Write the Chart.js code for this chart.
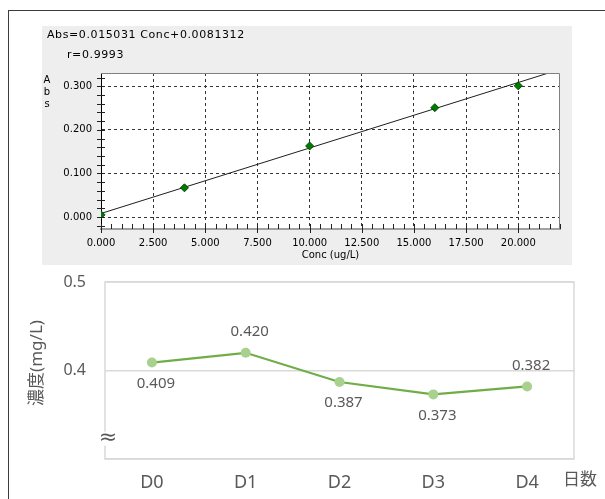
<!DOCTYPE html>
<html>
<head>
<meta charset="utf-8">
<script src="https://cdn.jsdelivr.net/npm/chart.js@4/dist/chart.umd.min.js"></script>
<style>
  html, body { margin: 0; padding: 0; background: #ffffff; }
  body { width: 605px; height: 499px; position: relative; overflow: hidden; }
  .frame-left { position: absolute; left: 8px; top: 10px; width: 1px; height: 489px; background: #3c3c3c; }
  .frame-top { position: absolute; left: 8px; top: 10px; width: 597px; height: 1px; background: #3c3c3c; }
  #calWrap { position: absolute; left: 42px; top: 26px; width: 530px; height: 239px; background: #eeeeee; }
  #trendWrap { position: absolute; left: 10px; top: 268px; width: 595px; height: 231px; }
  canvas { display: block; }
</style>
</head>
<body>
<div class="frame-left"></div>
<div class="frame-top"></div>
<div id="calWrap"><canvas id="cal" width="530" height="239"></canvas></div>
<div id="trendWrap"><canvas id="trend" width="595" height="231"></canvas></div>
<script>
// Calibration standards: concentration (ug/L) and measured absorbance
const CONC = [0, 4, 10, 16, 20];
const ABS = [0.005, 0.067, 0.163, 0.251, 0.301];
// Least-squares fit reported with the curve
const SLOPE = 0.015031;
const INTERCEPT = 0.0081312;
const R_VALUE = '0.9993';
// Axis ranges of the calibration plot
const CONC_RANGE = [0, 22];
const ABS_RANGE = [-0.0275, 0.3305];

// Daily concentration readings
const DAYS = ['D0', 'D1', 'D2', 'D3', 'D4'];
const CONCENTRATION = [0.409, 0.420, 0.387, 0.373, 0.382];
const LABEL_SIDE = ['below', 'above', 'below', 'below', 'above'];
const TREND_RANGE = [0.3, 0.5];

const near = (v, step) => Math.abs(v / step - Math.round(v / step)) < 1e-6;
const SMALL_FONT = '"DejaVu Sans", sans-serif';

// ---------- calibration curve ----------
const calDecor = {
  id: 'calDecor',
  beforeDraw(chart) {
    const { ctx, chartArea: a } = chart;
    ctx.save();
    ctx.fillStyle = '#ffffff';
    ctx.fillRect(a.left, a.top, a.right - a.left, a.bottom - a.top);
    ctx.restore();
  },
  afterDraw(chart) {
    const { ctx, chartArea: a } = chart;
    const xs = chart.scales.x, ys = chart.scales.y;
    ctx.save();
    // frame on the open sides of the plot
    ctx.strokeStyle = '#808080';
    ctx.lineWidth = 1;
    ctx.beginPath();
    ctx.moveTo(a.left, a.top + 0.5);
    ctx.lineTo(a.right - 0.5, a.top + 0.5);
    ctx.lineTo(a.right - 0.5, a.bottom);
    ctx.stroke();
    // tick marks
    ctx.strokeStyle = '#222222';
    ctx.beginPath();
    xs.ticks.forEach(t => {
      const px = Math.round(xs.getPixelForValue(t.value)) + 0.5;
      const major = near(t.value, 2.5);
      ctx.moveTo(px, a.bottom - 5);
      ctx.lineTo(px, major ? a.bottom + 4 : a.bottom);
    });
    ys.ticks.forEach(t => {
      const py = Math.round(ys.getPixelForValue(t.value)) + 0.5;
      ctx.moveTo(a.left - 4, py);
      ctx.lineTo(a.left + 4, py);
    });
    ctx.stroke();
    // equation, correlation and axis captions
    ctx.fillStyle = '#000000';
    ctx.font = '11px ' + SMALL_FONT;
    ctx.letterSpacing = '0.6px';
    ctx.textAlign = 'left';
    ctx.textBaseline = 'alphabetic';
    ctx.fillText('Abs=' + SLOPE + ' Conc+' + INTERCEPT, 5, 11.5);
    ctx.fillText('r=' + R_VALUE, 25, 32);
    ctx.letterSpacing = '0px';
    ctx.font = '10px ' + SMALL_FONT;
    ctx.textAlign = 'center';
    ['A', 'b', 's'].forEach((ch, i) => ctx.fillText(ch, 5, 57 + i * 12));
    ctx.textBaseline = 'middle';
    ctx.fillText('Conc (ug/L)', (a.left + a.right) / 2, 229);
    ctx.restore();
  }
};

new Chart(document.getElementById('cal'), {
  type: 'scatter',
  data: {
    datasets: [
      {
        label: 'Standards',
        data: CONC.map((c, i) => ({ x: c, y: ABS[i] })),
        pointStyle: 'rectRot',
        pointRadius: 4,
        pointBackgroundColor: '#007a00',
        pointBorderColor: '#004d00',
        pointBorderWidth: 1,
        showLine: false
      },
      {
        label: 'Fit',
        type: 'line',
        data: CONC_RANGE.map(c => ({ x: c, y: SLOPE * c + INTERCEPT })),
        borderColor: '#1e1e1e',
        borderWidth: 1,
        pointRadius: 0,
        fill: false
      }
    ]
  },
  options: {
    responsive: false,
    animation: false,
    events: [],
    layout: { padding: { top: 47, right: 12, left: 0, bottom: 0 } },
    plugins: { legend: { display: false }, tooltip: { enabled: false }, title: { display: false } },
    scales: {
      x: {
        type: 'linear',
        min: CONC_RANGE[0],
        max: CONC_RANGE[1],
        afterFit(s) { s.height = 36; },
        border: { display: true, color: '#a0a0a0', width: 2, dash: [3, 3] },
        grid: {
          drawTicks: false,
          lineWidth: 1,
          color: c => (c.tick && near(c.tick.value, 2.5) && c.tick.value > 0) ? '#333333' : 'rgba(0,0,0,0)'
        },
        ticks: {
          stepSize: 0.5,
          autoSkip: false,
          maxRotation: 0,
          padding: 8,
          color: '#000000',
          font: { family: SMALL_FONT, size: 10 },
          callback: v => near(v, 2.5) ? Math.abs(v).toFixed(3) : ''
        }
      },
      y: {
        type: 'linear',
        min: ABS_RANGE[0],
        max: ABS_RANGE[1],
        afterFit(s) { s.width = 59; },
        border: { display: true, color: '#000000', width: 1, dash: [3, 3] },
        grid: {
          drawTicks: false,
          lineWidth: 1,
          color: c => (c.tick && near(c.tick.value, 0.1)) ? '#333333' : 'rgba(0,0,0,0)'
        },
        ticks: {
          stepSize: 0.02,
          includeBounds: false,
          maxTicksLimit: 100,
          autoSkip: false,
          padding: 9,
          color: '#000000',
          font: { family: SMALL_FONT, size: 10 },
          callback: v => near(v, 0.1) ? (Math.abs(v) < 1e-9 ? 0 : v).toFixed(3) : ''
        }
      }
    }
  },
  plugins: [calDecor]
});

// ---------- daily concentration ----------
const TEXT_GREY = '#595959';
const TREND_FONT = '"Noto Sans", "Noto Sans CJK JP", sans-serif';

const trendDecor = {
  id: 'trendDecor',
  afterDraw(chart) {
    const { ctx, chartArea: a } = chart;
    const ys = chart.scales.y;
    ctx.save();
    // plot area outline
    ctx.strokeStyle = '#d9d9d9';
    ctx.lineWidth = 1.5;
    ctx.strokeRect(a.left, a.top, a.right - a.left, a.bottom - a.top);
    // axis break mark
    const by = ys.getPixelForValue(0.323);
    ctx.fillStyle = '#ffffff';
    ctx.fillRect(a.left - 3, by - 7, 8, 14);
    ctx.fillStyle = TEXT_GREY;
    ctx.font = '22px "DejaVu Sans", sans-serif';
    ctx.textAlign = 'center';
    ctx.textBaseline = 'middle';
    ctx.fillText('\u2248', a.left + 3, by);
    // value labels
    const meta = chart.getDatasetMeta(0);
    ctx.font = '15px ' + TREND_FONT;
    meta.data.forEach((pt, i) => {
      const dy = LABEL_SIDE[i] === 'above' ? -21 : 21;
      ctx.fillText(CONCENTRATION[i].toFixed(3), pt.x + 4, pt.y + dy);
    });
    // axis titles
    ctx.font = '17px ' + TREND_FONT;
    ctx.fillText('日数', 570, 212);
    ctx.translate(27, 95);
    ctx.rotate(-Math.PI / 2);
    ctx.font = '17px ' + TREND_FONT;
    ctx.fillText('濃度(mg/L)', 0, 0);
    ctx.restore();
  }
};

new Chart(document.getElementById('trend'), {
  type: 'line',
  data: {
    labels: DAYS,
    datasets: [{
      label: '濃度',
      data: CONCENTRATION,
      borderColor: '#70ad47',
      borderWidth: 2.25,
      pointRadius: 5,
      pointBackgroundColor: '#a9d18e',
      pointBorderColor: '#a9d18e',
      pointBorderWidth: 0,
      tension: 0,
      fill: false
    }]
  },
  options: {
    responsive: false,
    animation: false,
    events: [],
    layout: { padding: { top: 14, right: 31, left: 0, bottom: 0 } },
    plugins: { legend: { display: false }, tooltip: { enabled: false } },
    scales: {
      x: {
        type: 'category',
        offset: true,
        afterFit(s) { s.height = 40; },
        border: { display: false },
        grid: { display: false, drawTicks: false },
        ticks: {
          padding: 13,
          color: TEXT_GREY,
          font: { family: TREND_FONT, size: 18 }
        }
      },
      y: {
        min: TREND_RANGE[0],
        max: TREND_RANGE[1],
        afterFit(s) { s.width = 95; s.paddingTop = 0; s.paddingBottom = 0; },
        border: { display: false },
        grid: { drawTicks: false, color: '#d9d9d9', lineWidth: 1.5 },
        ticks: {
          stepSize: 0.1,
          padding: 19,
          color: TEXT_GREY,
          font: { family: TREND_FONT, size: 16 },
          callback: v => Math.abs(v - TREND_RANGE[0]) < 1e-9 ? '' : v.toFixed(1)
        }
      }
    }
  },
  plugins: [trendDecor]
});
</script>
</body>
</html>
